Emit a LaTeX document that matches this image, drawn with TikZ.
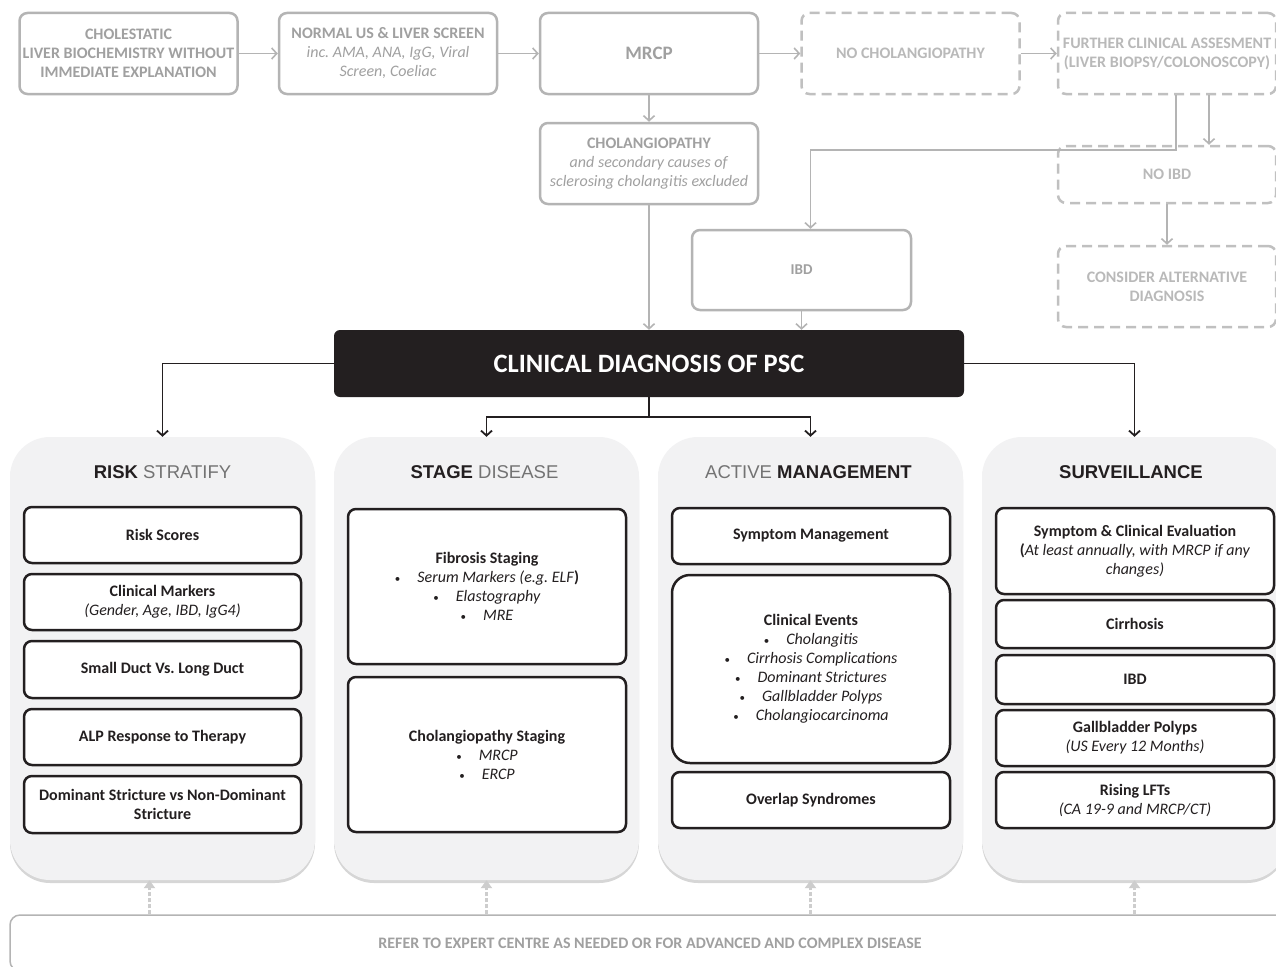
\documentclass[tikz,border=0pt]{standalone}
\usepackage{fontspec}
\setmainfont{Carlito}
\newfontfamily\arialf{Liberation Sans}
\usetikzlibrary{arrows.meta,shadows,calc}
\definecolor{gtext}{RGB}{160,160,160}
\definecolor{gline}{RGB}{180,180,180}
\definecolor{dtext}{RGB}{185,185,185}
\definecolor{dline}{RGB}{192,192,192}
\definecolor{ink}{RGB}{35,31,32}
\definecolor{pfill}{RGB}{242,242,243}
\definecolor{hgray}{RGB}{115,115,115}
\definecolor{bgray}{RGB}{205,205,205}
\newcommand{\bul}{{\fontsize{11}{11}\selectfont\textbullet}\hspace{17pt}}
\frenchspacing
\begin{document}
\begin{tikzpicture}[x=1pt,y=-1pt,
  topbox/.style={draw=gline, line width=2.5pt, rounded corners=8pt, fill=white,
    minimum width=218pt, minimum height=81pt, align=center, text=gtext,
    font=\fontsize{16}{19}\selectfont, inner sep=2pt},
  dashbox/.style={topbox, draw=dline, dash pattern=on 10pt off 6pt, text=dtext},
  garrow/.style={draw=gline, line width=1.6pt, -{Straight Barb[length=5pt,width=11pt]}},
  kline/.style={draw=ink, line width=1.8pt},
  karrow/.style={kline, -{Straight Barb[length=5pt,width=11pt]}},
  barrow/.style={draw=bgray, line width=3pt, dash pattern=on 4pt off 2pt, -{Triangle[length=8pt,width=11pt]}},
  panel/.style={fill=pfill, rounded corners=40pt, minimum width=305pt, minimum height=443pt,
    drop shadow={shadow xshift=0pt, shadow yshift=-3pt, opacity=0.35, fill=black!45}},
  ptitle/.style={font=\arialf\fontsize{18.5}{22}\selectfont, text=ink},
  inbox/.style={draw=ink, line width=2.5pt, fill=white, rounded corners=8pt,
    minimum width=277pt, align=center, font=\fontsize{16}{19}\selectfont, text=ink, inner sep=2pt}
]
\useasboundingbox (0,0) rectangle (1276,966);
\clip (0,0) rectangle (1276,966);
\fill[white] (0,0) rectangle (1276,966);

% top row
\node[topbox] (A) at (128.5,53.5) {\textbf{CHOLESTATIC}\\\textbf{LIVER BIOCHEMISTRY WITHOUT}\\\textbf{IMMEDIATE EXPLANATION}};
\node[topbox] (B) at (388,53.5) {\textbf{NORMAL US \& LIVER SCREEN}\\\textit{inc. AMA, ANA, IgG, Viral}\\\textit{Screen, Coeliac}};
\node[topbox, font=\fontsize{19}{21}\selectfont] (C) at (649,53.5) {\textbf{MRCP}};
\node[dashbox] (D) at (910.5,53.5) {\textbf{NO CHOLANGIOPATHY}};
\node[dashbox] (E) at (1167,53.5) {\textbf{FURTHER CLINICAL ASSESMENT}\\\textbf{(LIVER BIOPSY/COLONOSCOPY)}};
\node[topbox] (F) at (649,163.5) {\textbf{CHOLANGIOPATHY}\\\textit{and secondary causes of}\\\textit{sclerosing cholangitis excluded}};
\node[topbox, minimum width=219pt, minimum height=80pt, font=\fontsize{15}{18}\selectfont] (G) at (801.5,270) {\textbf{IBD}};
\node[dashbox, minimum height=57pt] (H) at (1167,174.5) {\textbf{NO IBD}};
\node[dashbox] (I) at (1167,286.5) {\textbf{CONSIDER ALTERNATIVE}\\\textbf{DIAGNOSIS}};

\node[fill=ink, rounded corners=6pt, minimum width=630pt, minimum height=67pt,
  text=white, font=\fontsize{26.5}{30}\selectfont] (PSC) at (649,363.5) {\textbf{CLINICAL DIAGNOSIS OF PSC}};

\draw[garrow] (A.east) -- (B.west);
\draw[garrow] (B.east) -- (C.west);
\draw[garrow] (C.east) -- (D.west);
\draw[garrow] (D.east) -- (E.west);
\draw[garrow] (C.south) -- (F.north);
\draw[garrow] (F.south) -- (PSC.north);
\draw[garrow] (G.south) -- (G.south |- PSC.north);
\draw[garrow] ([xshift=9pt]E.south) -- ++(0,55) -| ([xshift=9pt]G.north);
\draw[garrow] ([xshift=42pt]E.south) -- ([xshift=42pt]E.south |- H.north);
\draw[garrow] (H.south) -- (I.north);

% panels
\node[panel] (P1) at (162.5,658.5) {};
\node[panel] (P2) at (486.5,658.5) {};
\node[panel] (P3) at (810.5,658.5) {};
\node[panel] (P4) at (1134.5,658.5) {};

\draw[karrow] (PSC.west) -| (P1.north);
\draw[karrow] (PSC.east) -| (P4.north);
\draw[kline] (PSC.south) -- ++(0,20) coordinate (split);
\draw[karrow] (split) -| (P2.north);
\draw[karrow] (split) -| (P3.north);

\node[ptitle] (T1) at (162.5,472) {\textbf{RISK} {\color{hgray}STRATIFY}};
\node[ptitle] (T2) at (484.5,472) {\textbf{STAGE} {\color{hgray}DISEASE}};
\node[ptitle] (T3) at (808.5,472) {{\color{hgray}ACTIVE} \textbf{MANAGEMENT}};
\node[ptitle] (T4) at (1131,472) {\textbf{SURVEILLANCE}};

% panel 1
\node[inbox, minimum height=56pt] (r1) at (162.5,535) {\textbf{Risk Scores}};
\node[inbox, minimum height=56pt] (r2) at (162.5,602) {\textbf{Clinical Markers}\\\textit{(Gender, Age, IBD, IgG4)}};
\node[inbox, minimum height=57pt] (r3) at (162.5,669.5) {\textbf{Small Duct Vs. Long Duct}};
\node[inbox, minimum height=56pt] (r4) at (162.5,737) {\textbf{ALP Response to Therapy}};
\node[inbox, minimum height=57pt] (r5) at (162.5,804.5) {\textbf{Dominant Stricture vs Non-Dominant}\\\textbf{Stricture}};

% panel 2
\node[inbox, minimum width=278pt, minimum height=155pt] (s1) at (487,586.5) {\textbf{Fibrosis Staging}\\
  \bul\textit{Serum Markers (e.g. ELF}\textbf{)}\\
  \bul\textit{Elastography}\\
  \bul\textit{MRE}};
\node[inbox, minimum width=278pt, minimum height=155pt] (s2) at (487,754.5) {\textbf{Cholangiopathy Staging}\\
  \bul\textit{MRCP}\\
  \bul\textit{ERCP}};

% panel 3
\node[inbox, minimum width=278pt, minimum height=56pt] (a1) at (811,536) {\textbf{Symptom Management}};
\node[inbox, minimum width=278pt, minimum height=188pt, rounded corners=18pt] (a2) at (811,669) {\textbf{Clinical Events}\\
  \bul\textit{Cholangitis}\\
  \bul\textit{Cirrhosis Complications}\\
  \bul\textit{Dominant Strictures}\\
  \bul\textit{Gallbladder Polyps}\\
  \bul\textit{Cholangiocarcinoma}};
\node[inbox, minimum width=278pt, minimum height=56pt] (a3) at (811,800) {\textbf{Overlap Syndromes}};

% panel 4
\node[inbox, minimum width=278pt, minimum height=86pt] (v1) at (1135,551) {\textbf{Symptom \& Clinical Evaluation}\\
  \textbf{(}\textit{At least annually, with MRCP if any}\\\textit{changes)}};
\node[inbox, minimum width=278pt, minimum height=48pt] (v2) at (1135,624) {\textbf{Cirrhosis}};
\node[inbox, minimum width=278pt, minimum height=49pt] (v3) at (1135,679.5) {\textbf{IBD}};
\node[inbox, minimum width=278pt, minimum height=56pt] (v4) at (1135,738) {\textbf{Gallbladder Polyps}\\\textit{(US Every 12 Months)}};
\node[inbox, minimum width=278pt, minimum height=56pt] (v5) at (1135,800) {\textbf{Rising LFTs}\\\textit{(CA 19-9 and MRCP/CT)}};

% bottom
\node[draw=gline, line width=1.5pt, fill=white, rounded corners=10pt, minimum width=1280pt,
  minimum height=56pt, text=gtext, font=\fontsize{16}{18}\selectfont] (REF) at (650,943)
  {\textbf{REFER TO EXPERT CENTRE AS NEEDED OR FOR ADVANCED AND COMPLEX DISEASE}};
\draw[barrow] ([xshift=-13pt]P1.south |- REF.north) -- ([xshift=-13pt]P1.south);
\draw[barrow] (P2.south |- REF.north) -- (P2.south);
\draw[barrow] (P3.south |- REF.north) -- (P3.south);
\draw[barrow] (P4.south |- REF.north) -- (P4.south);
\end{tikzpicture}
\end{document}
